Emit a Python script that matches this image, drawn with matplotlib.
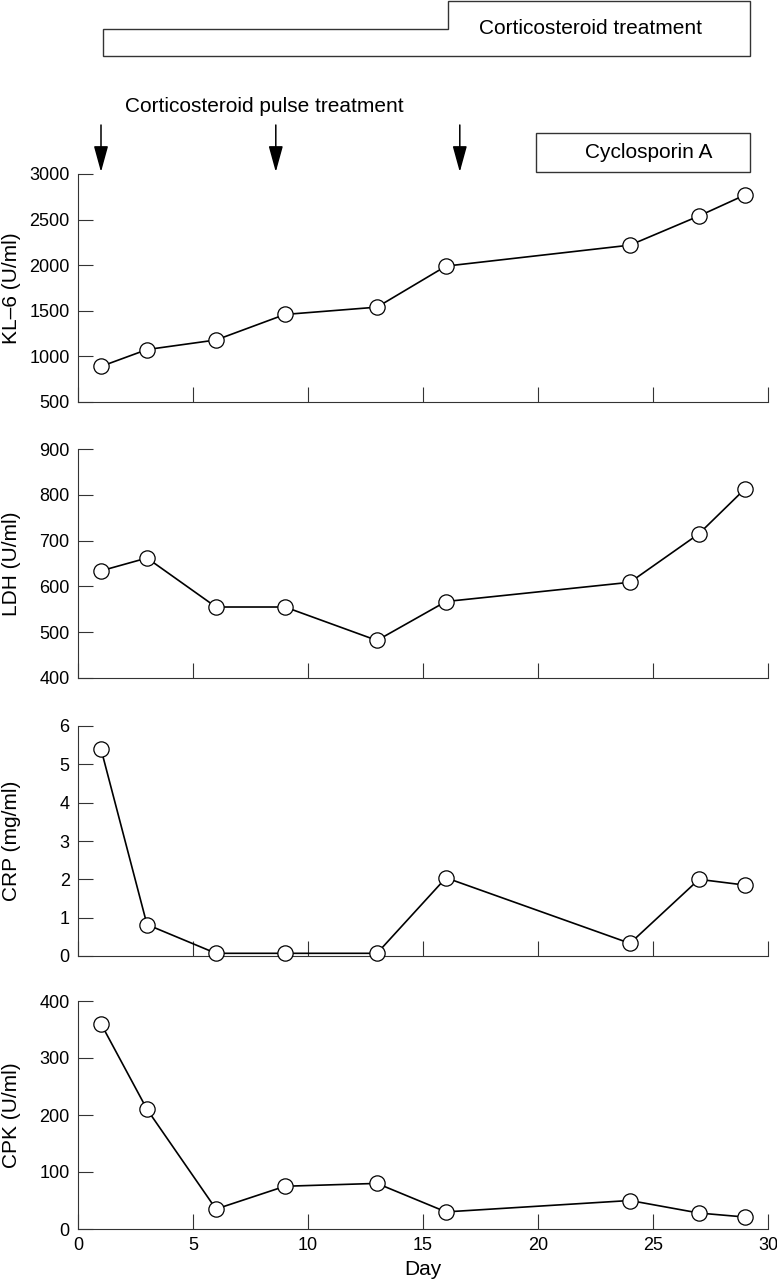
import matplotlib
matplotlib.use("Agg")
import matplotlib.pyplot as plt
from matplotlib.patches import Polygon, Rectangle, FancyArrowPatch

plt.rcParams['font.family'] = ['Liberation Sans', 'DejaVu Sans']

# data
days = [1, 3, 6, 9, 13, 16, 24, 27, 29]
kl6 = [890, 1075, 1180, 1460, 1540, 1990, 2220, 2540, 2770]
ldh = [634, 662, 555, 555, 482, 567, 609, 715, 813]
crp = [5.4, 0.82, 0.07, 0.07, 0.07, 2.04, 0.33, 2.0, 1.85]
cpk = [360, 210, 35, 75, 80, 30, 50, 28, 21]

panel_labels = ['KL–6 (U/ml)', 'LDH (U/ml)', 'CRP (mg/ml)', 'CPK (U/ml)']
panel_ylims = [(500, 3000), (400, 900), (0, 6), (0, 400)]
panel_yticks = [
    [500, 1000, 1500, 2000, 2500, 3000],
    [400, 500, 600, 700, 800, 900],
    [0, 1, 2, 3, 4, 5, 6],
    [0, 100, 200, 300, 400],
]
xticks = [0, 5, 10, 15, 20, 25, 30]

# treatment timeline (days)
steroid_start, steroid_step, steroid_end = 1.1, 16.1, 29.2
pulse_days = [1.0, 8.6, 16.6]
cyclo_start, cyclo_end = 19.9, 29.2

W, H = 777, 1280
fig = plt.figure(figsize=(W / 100, H / 100), dpi=100)

left = 78 / W
width = (768 - 78) / W
panel_px = [(174, 402), (449, 678), (726, 956), (1001, 1229)]
spine_col = '#333333'

axes = []
for top, bot in panel_px:
    ax = fig.add_axes([left, 1 - bot / H, width, (bot - top) / H])
    axes.append(ax)

for i, (ax, vals) in enumerate(zip(axes, [kl6, ldh, crp, cpk])):
    ax.plot(days, vals, color='black', lw=1.2, marker='o', ms=11,
            mfc='white', mec='black', mew=0.9, clip_on=False, zorder=3)
    ax.set_xlim(0, 30)
    ax.set_ylim(*panel_ylims[i])
    ax.set_yticks(panel_yticks[i])
    ax.set_xticks(xticks)
    for s in ['top', 'right']:
        ax.spines[s].set_visible(False)
    for s in ['left', 'bottom']:
        ax.spines[s].set_linewidth(0.8)
        ax.spines[s].set_color(spine_col)
    ax.tick_params(direction='in', length=11, width=0.8, color=spine_col,
                   labelsize=13, pad=6)
    ax.set_ylabel(panel_labels[i], fontsize=15)
    ax.yaxis.set_label_coords(-0.083, 0.5)
    if i < 3:
        ax.tick_params(axis='x', labelbottom=False)
    else:
        ax.set_xlabel('Day', fontsize=15, labelpad=4)

# annotation strip above the first panel, y in pixels from top of figure
top_ax = fig.add_axes([left, 1 - 174 / H, width, 174 / H])
top_ax.set_xlim(0, 30)
top_ax.set_ylim(174, 0)
top_ax.axis('off')

steroid = Polygon([(steroid_start, 56), (steroid_start, 29), (steroid_step, 29),
                   (steroid_step, 1), (steroid_end, 1), (steroid_end, 56)],
                  closed=True, fill=False, ec=spine_col, lw=1.0, clip_on=False)
top_ax.add_patch(steroid)
top_ax.text(22.3, 29, 'Corticosteroid treatment',
            ha='center', va='center', fontsize=15)

top_ax.text(8.1, 106, 'Corticosteroid pulse treatment',
            ha='center', va='center', fontsize=15)
for d in pulse_days:
    arr = FancyArrowPatch((d, 125), (d, 172), arrowstyle='-|>,head_length=0.8,head_width=0.22',
                          mutation_scale=20, color='black', lw=1.1, clip_on=False,
                          shrinkA=0, shrinkB=0)
    top_ax.add_patch(arr)

cyclo = Rectangle((cyclo_start, 133), cyclo_end - cyclo_start, 39,
                  fill=False, ec=spine_col, lw=1.0, clip_on=False)
top_ax.add_patch(cyclo)
top_ax.text(24.8, 153, 'Cyclosporin A',
            ha='center', va='center', fontsize=15)

fig.savefig('out.png', dpi=100)
